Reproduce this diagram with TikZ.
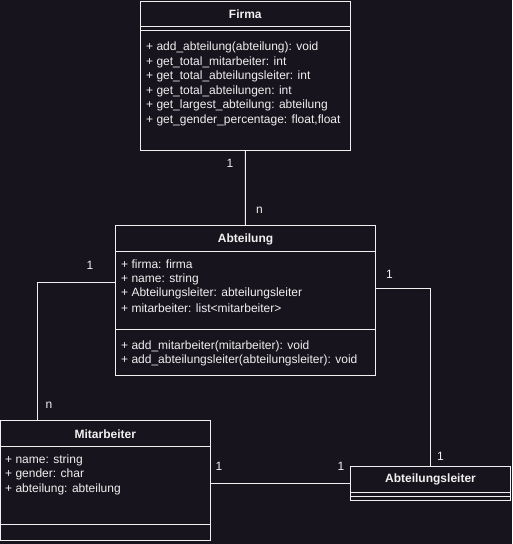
\documentclass[tikz,border=0pt]{standalone}
\usepackage{fontspec}
\setmainfont{Liberation Sans}
\usetikzlibrary{positioning,calc}
\definecolor{bgdark}{HTML}{18141D}
\definecolor{ink}{HTML}{F0F0F0}
\begin{document}
\begin{tikzpicture}[x=1pt,y=-1pt,
  classbox/.style={draw=ink,line width=1pt,fill=bgdark,inner sep=0pt,outer sep=0pt},
  title/.style={text=ink,font=\fontsize{12}{14}\selectfont\bfseries,inner sep=0pt,anchor=center},
  member/.style={text=ink,font=\fontsize{12}{14}\selectfont,inner sep=0pt,anchor=west},
  mult/.style={text=ink,font=\fontsize{12}{14}\selectfont,inner sep=0pt,anchor=center},
  link/.style={draw=ink,line width=1pt},
  sep/.style={draw=ink,line width=1pt}]
\fill[bgdark] (0,0) rectangle (512,544);
\useasboundingbox (0,0) rectangle (512,544);

% ---- Firma ----
\node[classbox,minimum width=210pt,minimum height=149pt] (firma) at (245.3,75.5) {};
\draw[sep] (140.3,26) -- (350.3,26);
\draw[sep] (140.3,30) -- (350.3,30);
\node[title] (firmaT) at (245.3,14) {Firma};
\node[member] (f1) at (146,47.5) {+ add\_abteilung(abteilung): void};
\node[member] (f2) at (146,62) {+ get\_total\_mitarbeiter: int};
\node[member] (f3) at (146,76.5) {+ get\_total\_abteilungsleiter: int};
\node[member] (f4) at (146,91) {+ get\_total\_abteilungen: int};
\node[member] (f5) at (146,105.5) {+ get\_largest\_abteilung: abteilung};
\node[member] (f6) at (146,120) {+ get\_gender\_percentage: float,float};

% ---- Abteilung ----
\node[classbox,minimum width=260.4pt,minimum height=149.7pt] (abt) at (245.5,300.2) {};
\draw[sep] (115.3,251.7) -- (375.7,251.7);
\draw[sep] (115.3,329) -- (375.7,329);
\node[title] (abtT) at (245.5,239) {Abteilung};
\node[member] (a1) at (121,264.5) {+ firma: firma};
\node[member] (a2) at (121,279) {+ name: string};
\node[member] (a3) at (121,293.5) {+ Abteilungsleiter: abteilungsleiter};
\node[member] (a4) at (121,308) {+ mitarbeiter: list<mitarbeiter>};
\node[member] (a5) at (121,346.5) {+ add\_mitarbeiter(mitarbeiter): void};
\node[member] (a6) at (121,360.5) {+ add\_abteilungsleiter(abteilungsleiter): void};

% ---- Mitarbeiter ----
\node[classbox,minimum width=210pt,minimum height=119.7pt] (mit) at (105.3,480.2) {};
\draw[sep] (0.3,446.3) -- (210.3,446.3);
\draw[sep] (0.3,524.3) -- (210.3,524.3);
\node[title] (mitT) at (105.3,434) {Mitarbeiter};
\node[member] (m1) at (5,460) {+ name: string};
\node[member] (m2) at (5,474.5) {+ gender: char};
\node[member] (m3) at (5,489) {+ abteilung: abteilung};

% ---- Abteilungsleiter ----
\node[classbox,minimum width=159.6pt,minimum height=33.6pt] (ltr) at (430.5,483.5) {};
\draw[sep] (350.7,492.3) -- (510.3,492.3);
\draw[sep] (350.7,496.3) -- (510.3,496.3);
\node[title] (ltrT) at (430.5,479.7) {Abteilungsleiter};

% ---- connector end points ----
\coordinate (abtL) at (115.3,282);
\coordinate (abtR) at (375.7,288);
\coordinate (mitTop) at (37,420.3);
\coordinate (mitR) at (210.3,483.3);
\coordinate (ltrL) at (350.7,483.3);

% ---- associations ----
\draw[link] (firma.south) -- (abt.north);
\draw[link] (abtL) -| (mitTop);
\draw[link] (abtR) -| (ltr.north);
\draw[link] (mitR) -- (ltrL);

% ---- multiplicities ----
\node[mult] (m_fa1) at (230,163) {1};
\node[mult] (m_fan) at (259.5,210) {n};
\node[mult] (m_am1) at (90,265) {1};
\node[mult] (m_amn) at (49,405) {n};
\node[mult] (m_al1) at (389.5,274) {1};
\node[mult] (m_al2) at (440.5,456) {1};
\node[mult] (m_ml1) at (219,466) {1};
\node[mult] (m_ml2) at (341,466) {1};
\end{tikzpicture}
\end{document}
